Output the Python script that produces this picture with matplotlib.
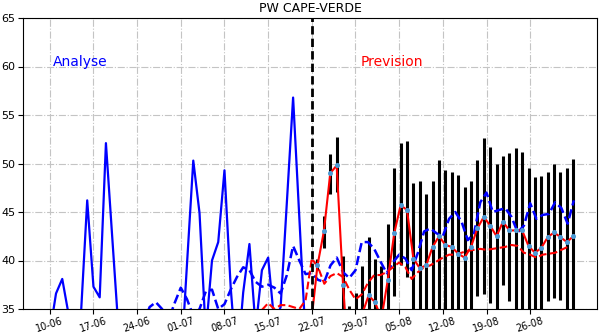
import numpy as np
import pandas as pd
import matplotlib
matplotlib.use('Agg')
import matplotlib.pyplot as plt
import matplotlib.dates as mdates

# --- dates ---
T_REF = pd.Timestamp('2019-07-22')          # start of forecast (dashed black line)
FC_START = pd.Timestamp('2019-07-21 21:10')  # first forecast point (below axis)
FC_STEP = pd.Timedelta(hours=24.6)

# analyse, solid blue : days -42 .. -1 relative to 22-07
ana_days = np.arange(-42, 0)
ana_pw = [32.5, 36.6, 38.1, 34.5, 30.0, 34.5, 46.2, 37.3, 36.2, 52.1,
          42.5, 33.0, 30.0, 31.0, 30.5, 30.0, 31.5, 30.0, 30.5, 31.0,
          30.0, 29.0, 39.7, 50.3, 44.9, 32.5, 40.0, 41.9, 49.3, 37.2,
          29.0, 36.7, 41.7, 33.0, 39.0, 40.3, 33.5, 35.2, 46.0, 56.8,
          44.4, 32.0]

# blue dashed : days -27 .. 42
bdash_days = np.arange(-27, 43)
bdash_pw = [33.5, 35.2, 35.7, 35.0, 33.8, 35.6, 37.2, 36.0, 34.3, 35.0,
            36.8, 37.0, 35.0, 35.5, 37.0, 38.3, 39.3, 39.0, 37.8, 37.3,
            37.5, 37.2, 36.6, 38.5, 41.5, 40.0, 38.6, 38.7, 38.0, 37.8,
            39.5, 40.3, 38.8, 38.2, 39.0, 41.9, 41.9, 41.2, 39.9, 38.7,
            39.8, 40.6, 40.2, 39.0, 40.8, 43.0, 43.3, 42.8, 42.5, 44.3,
            45.0, 44.0, 42.1, 42.8, 46.0, 47.0, 45.0, 45.2, 45.4, 44.5,
            42.9, 43.6, 45.9, 44.3, 44.7, 44.8, 46.0, 45.4, 43.8, 46.2]

# red dashed : days -8 .. 41
rdash_days = np.arange(-8, 42)
rdash_pw = [34.9, 35.6, 35.0, 35.4, 35.4, 35.2, 35.0, 35.9, 40.2, 39.3,
            37.6, 38.4, 38.7, 38.3, 37.0, 36.0, 36.5, 37.7, 38.5, 38.5,
            38.8, 39.3, 39.8, 39.3, 38.1, 38.8, 39.3, 39.5, 39.9, 40.3,
            40.6, 40.6, 40.8, 41.0, 41.1, 41.2, 41.1, 41.2, 41.3, 41.4,
            41.6, 41.5, 40.8, 40.6, 40.3, 40.6, 40.7, 40.8, 41.1, 41.4]

# prevision, red solid with dots (first value is the start point)
prev_pw = [33.5, 39.5, 43.0, 49.0, 49.8, 37.5, 28.0, 30.0, 34.5, 36.4,
           35.7, 34.0, 38.0, 42.8, 45.7, 45.2, 40.2, 39.2, 39.5, 41.4,
           42.5, 41.6, 41.4, 40.7, 40.3, 41.4, 43.3, 44.5, 43.6, 42.5,
           44.0, 43.1, 43.1, 43.1, 41.5, 40.8, 41.3, 42.4, 42.9, 42.4,
           41.9, 42.5]

# ensemble min / max bars
ens_min = [39.0, 41.3, 46.9, 47.1, 30.0, 30.0, 30.0, 30.0, 30.0, 30.0,
           30.0, 30.0, 36.3, 39.5, 38.3, 30.0, 30.0, 30.0, 30.0, 30.0,
           30.0, 30.0, 30.0, 30.0, 30.0, 36.3, 36.5, 35.6, 30.0, 37.5,
           35.8, 30.0, 30.0, 30.0, 30.0, 30.0, 35.8, 36.1, 35.9, 30.0,
           30.0]
ens_max = [40.2, 44.6, 51.0, 52.7, 40.5, 35.3, 36.7, 39.4, 42.4, 40.2,
           39.4, 43.8, 49.5, 52.1, 52.3, 48.0, 48.2, 46.9, 48.2, 50.4,
           49.3, 49.1, 48.8, 47.6, 48.2, 50.4, 52.6, 51.7, 49.9, 50.8,
           51.1, 51.6, 51.2, 49.5, 48.6, 48.7, 49.1, 49.9, 49.1, 49.5,
           50.5]

ana_t = T_REF + pd.to_timedelta(ana_days, unit='D')
bdash_t = T_REF + pd.to_timedelta(bdash_days, unit='D')
rdash_t = T_REF + pd.to_timedelta(rdash_days, unit='D')
prev_t = pd.DatetimeIndex([FC_START + FC_STEP * k for k in range(len(prev_pw))])
bar_t = prev_t[1:]

fig = plt.figure(figsize=(6.04, 3.35), dpi=100)
ax = fig.add_axes([23 / 604, 1 - 309 / 335, 574 / 604, 291 / 335])

ax.vlines(bar_t, ens_min, ens_max, colors='black', linewidth=2.2, zorder=2)
ax.plot(ana_t, ana_pw, color='blue', linewidth=1.6, zorder=3)
ax.plot(bdash_t, bdash_pw, color='blue', linestyle='--', linewidth=1.8, zorder=3)
ax.plot(rdash_t, rdash_pw, color='red', linestyle='--', linewidth=1.5, zorder=3)
ax.plot(prev_t, prev_pw, color='red', linewidth=1.5, marker='o', markersize=2.6,
        markerfacecolor='#4c9bd6', markeredgecolor='#4c9bd6', zorder=4)
ax.axvline(T_REF, color='black', linestyle=(0, (3, 1.5)), linewidth=2, zorder=5)

ax.text(pd.Timestamp('2019-06-10 12:00'), 60.5, 'Analyse', color='blue',
        fontsize=10, va='center')
ax.text(pd.Timestamp('2019-07-29 20:00'), 60.5, 'Prevision', color='red',
        fontsize=10, va='center')

ax.set_ylim(35, 65)
ax.set_yticks(np.arange(35, 66, 5))
ax.set_xlim(pd.Timestamp('2019-06-05 17:00'), pd.Timestamp('2019-09-05 17:00'))
ax.set_xticks(pd.date_range('2019-06-10', '2019-08-26', freq='7D'))
ax.xaxis.set_major_formatter(mdates.DateFormatter('%d-%m'))
ax.tick_params(axis='x', pad=1.5, labelsize=7)
ax.tick_params(axis='y', pad=2, labelsize=8)
plt.setp(ax.get_xticklabels(), rotation=18, ha='center')
ax.grid(True, linestyle='-.', color='#c4c4c4', linewidth=0.8)
ax.set_axisbelow(True)
ax.set_ylabel('mm', fontsize=8)
ax.yaxis.set_label_coords(-0.036, 0.5)
ax.set_title('PW CAPE-VERDE', fontsize=9, pad=4)

fig.savefig('out.png', dpi=100)
